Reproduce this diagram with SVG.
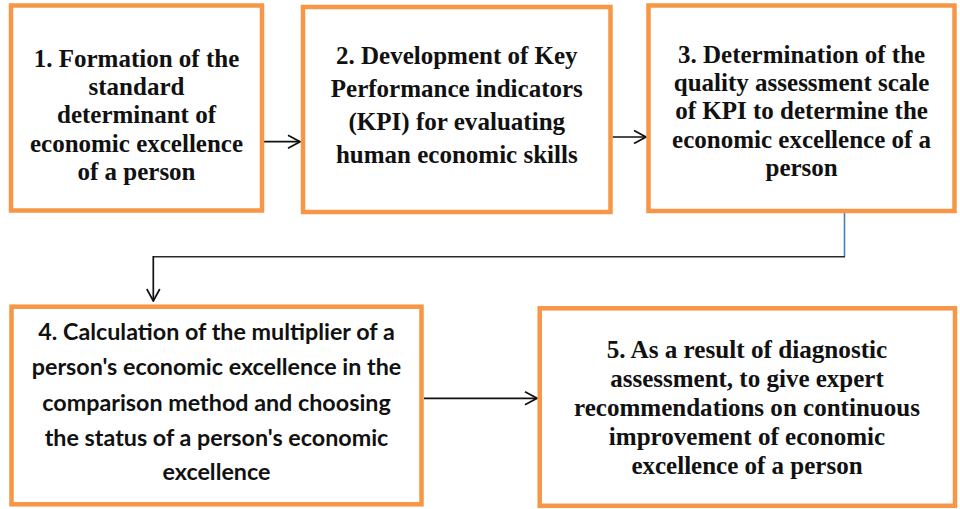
<svg xmlns="http://www.w3.org/2000/svg" width="960" height="509" viewBox="0 0 960 509">
<defs>
<style>
.box{fill:#fff;stroke:#F79646;stroke-width:4.5}
.tr{font-family:'Liberation Serif','Times New Roman',serif;font-weight:bold;font-size:25px;fill:#111;text-anchor:middle}
.sa{font-family:Lato,'Liberation Sans',sans-serif;font-weight:bold;font-size:23.3px;fill:#111;text-anchor:middle}
.ar{fill:none;stroke:#111;stroke-width:1.7}
</style>
<marker id="arr" viewBox="0 0 14 16" refX="13" refY="8" markerWidth="14" markerHeight="16" markerUnits="userSpaceOnUse" orient="auto">
<path d="M1,1.5 L13,8 L1,14.5" fill="none" stroke="#111" stroke-width="1.7"/>
</marker>
</defs>
<rect width="960" height="509" fill="#fff"/>
<g id="connectors">
<path class="ar" d="M264,141.7 H300" marker-end="url(#arr)"/>
<path class="ar" d="M612.5,137 H646" marker-end="url(#arr)"/>
<path d="M844.5,213 V256.7" fill="none" stroke="#4A7EBB" stroke-width="1.6"/>
<path d="M845,256.7 H153.3" fill="none" stroke="#2b2b2b" stroke-width="1.6"/>
<path class="ar" d="M153.3,256 V301" marker-end="url(#arr)"/>
<path class="ar" d="M424,398.3 H537" marker-end="url(#arr)"/>
</g>
<g id="node1">
<rect class="box" x="11" y="5.5" width="251" height="205"/>
<text class="tr" x="136.5" y="66.7" textLength="205.5" lengthAdjust="spacingAndGlyphs">1. Formation of the</text>
<text class="tr" x="136.5" y="95" textLength="95.9" lengthAdjust="spacingAndGlyphs">standard</text>
<text class="tr" x="136.5" y="123.3" textLength="159" lengthAdjust="spacingAndGlyphs">determinant of</text>
<text class="tr" x="136.5" y="152" textLength="213.1" lengthAdjust="spacingAndGlyphs">economic excellence</text>
<text class="tr" x="136.5" y="180" textLength="118" lengthAdjust="spacingAndGlyphs">of a person</text>
</g>
<g id="node2">
<rect class="box" x="303" y="7" width="307.5" height="205"/>
<text class="tr" x="456.8" y="63.5" textLength="241.6" lengthAdjust="spacingAndGlyphs">2. Development of Key</text>
<text class="tr" x="456.8" y="96.5" textLength="252" lengthAdjust="spacingAndGlyphs">Performance indicators</text>
<text class="tr" x="456.8" y="129.5" textLength="216.7" lengthAdjust="spacingAndGlyphs">(KPI) for evaluating</text>
<text class="tr" x="456.8" y="162.5" textLength="241.7" lengthAdjust="spacingAndGlyphs">human economic skills</text>
</g>
<g id="node3">
<rect class="box" x="648.5" y="5.5" width="306" height="205.5"/>
<text class="tr" x="801.6" y="62.7" textLength="247.2" lengthAdjust="spacingAndGlyphs">3. Determination of the</text>
<text class="tr" x="801.6" y="91" textLength="255.6" lengthAdjust="spacingAndGlyphs">quality assessment scale</text>
<text class="tr" x="801.6" y="119.3" textLength="252.7" lengthAdjust="spacingAndGlyphs">of KPI to determine the</text>
<text class="tr" x="801.6" y="147.7" textLength="259" lengthAdjust="spacingAndGlyphs">economic excellence of a</text>
<text class="tr" x="801.6" y="176" textLength="72.2" lengthAdjust="spacingAndGlyphs">person</text>
</g>
<g id="node4">
<rect class="box" x="11.5" y="306.7" width="410" height="197.6"/>
<text class="sa"><tspan x="216.5" y="340">4. Calculation of the multiplier of a</tspan><tspan x="216.5" y="375">person's economic excellence in the</tspan><tspan x="216.5" y="411">comparison method and choosing</tspan><tspan x="216.5" y="446">the status of a person's economic</tspan><tspan x="216.5" y="480">excellence</tspan></text>
</g>
<g id="node5">
<rect class="box" x="539.7" y="308.3" width="415.3" height="197.5"/>
<text class="tr" x="747" y="358.3" textLength="280.6" lengthAdjust="spacingAndGlyphs">5. As a result of diagnostic</text>
<text class="tr" x="747" y="387" textLength="273.6" lengthAdjust="spacingAndGlyphs">assessment, to give expert</text>
<text class="tr" x="747" y="415.7" textLength="345.9" lengthAdjust="spacingAndGlyphs">recommendations on continuous</text>
<text class="tr" x="747" y="444.5" textLength="276.3" lengthAdjust="spacingAndGlyphs">improvement of economic</text>
<text class="tr" x="747" y="473.5" textLength="231.2" lengthAdjust="spacingAndGlyphs">excellence of a person</text>
</g>
</svg>
